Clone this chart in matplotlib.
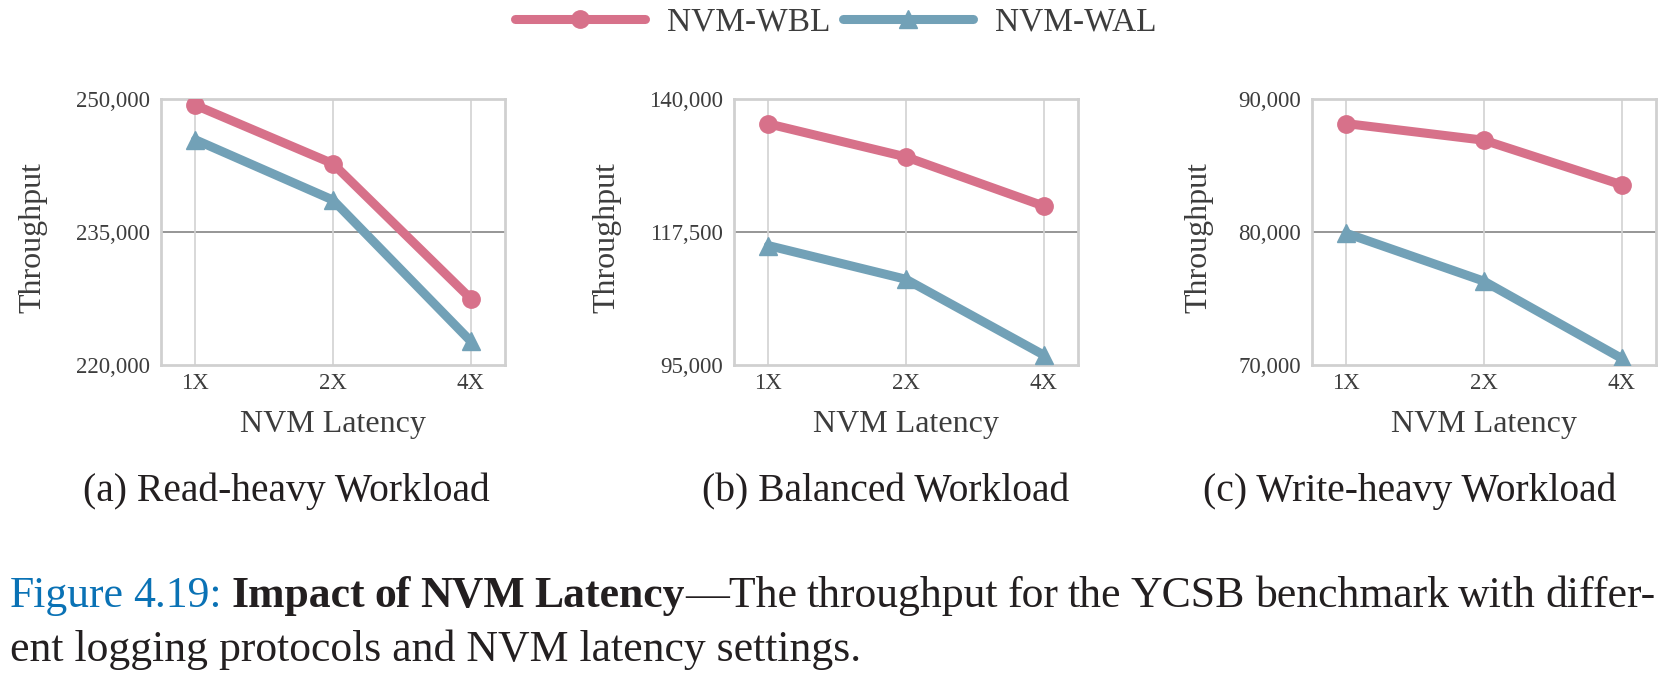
import matplotlib.pyplot as plt
from matplotlib.ticker import FuncFormatter

plt.rcParams['font.family'] = ['Liberation Serif', 'DejaVu Serif']

latency = ["1X", "2X", "4X"]

read_wbl = [249300, 242700, 227500]
read_wal = [245400, 238600, 222700]
balanced_wbl = [135800, 130200, 121900]
balanced_wal = [115200, 109500, 96700]
write_wbl = [88150, 86900, 83550]
write_wal = [79900, 76300, 70500]

y_limits = [(220000, 250000), (95000, 140000), (70000, 90000)]
subcaptions = ["(a) Read-heavy Workload", "(b) Balanced Workload", "(c) Write-heavy Workload"]
series_names = ["NVM-WBL", "NVM-WAL"]

W, H = 1668, 685
pink = "#d7718a"
blue = "#72a1b7"
ink = "#3d3d3d"
caption_ink = "#231f20"
caption_blue = "#0a72b5"

fig = plt.figure(figsize=(W / 100, H / 100), dpi=100)

panels = [(read_wbl, read_wal), (balanced_wbl, balanced_wal), (write_wbl, write_wal)]
lefts = [161, 734, 1312]
ylabel_x = [-0.33, -0.327, -0.286]
sub_x = [286, 886, 1410]

for i, (wbl, wal) in enumerate(panels):
    ax = fig.add_axes([lefts[i] / W, 1 - 365 / H, 344 / W, 266 / H])
    x = list(range(len(latency)))
    lo, hi = y_limits[i]
    mid = (lo + hi) / 2

    ax.plot(x, wal, color=blue, lw=6.5, marker='^', ms=13.5, solid_capstyle='round',
            label=series_names[1], zorder=3)
    ax.plot(x, wbl, color=pink, lw=6.5, marker='o', ms=12.5, solid_capstyle='round',
            label=series_names[0], zorder=4)

    ax.set_xlim(-0.25, 2.25)
    ax.set_ylim(lo, hi)
    ax.set_xticks(x, latency)
    ax.set_yticks([lo, mid, hi])
    ax.yaxis.set_major_formatter(FuncFormatter(lambda v, p: f"{v:,.0f}"))

    ax.grid(axis='x', color='#d2d2d2', lw=1.2, zorder=0)
    ax.axhline(mid, color='#8e8e8e', lw=1.3, zorder=1)
    for s in ax.spines.values():
        s.set_color('#d0d0d0')
        s.set_linewidth(2)

    ax.tick_params(axis='both', length=0, labelsize=16.5, colors=ink)
    ax.tick_params(axis='x', pad=6)
    ax.tick_params(axis='y', pad=8)
    ax.set_xlabel("NVM Latency", fontsize=23, color=ink, labelpad=11)
    ax.set_ylabel("Throughput", fontsize=23, color=ink)
    ax.yaxis.set_label_coords(ylabel_x[i], 0.48)

    fig.text(sub_x[i] / W, 1 - 501 / H, subcaptions[i], fontsize=28.5, color=caption_ink,
             ha='center', va='baseline')

# shared legend on top, WBL first
handles, labels = ax.get_legend_handles_labels()
fig.legend(handles[::-1], labels[::-1], loc='center', bbox_to_anchor=(0.501, 1 - 22 / H),
           ncol=2, frameon=False, fontsize=24, labelcolor=ink, handlelength=3.9,
           handletextpad=0.65, columnspacing=0.4, numpoints=1)

# caption, first line justified like the book text
renderer = fig.canvas.get_renderer()
cap_size = 31.5


def style(kind):
    if kind == 'blue':
        return dict(color=caption_blue, fontsize=cap_size)
    if kind == 'bold':
        return dict(color=caption_ink, fontsize=cap_size, fontweight='bold')
    return dict(color=caption_ink, fontsize=cap_size)


def width(s, kind):
    t = fig.text(0, 0, s, **style(kind))
    w = t.get_window_extent(renderer).width
    t.remove()
    return w


line1 = [
    [("Figure", 'blue')], [("4.19:", 'blue')],
    [("Impact", 'bold')], [("of", 'bold')], [("NVM", 'bold')],
    [("Latency", 'bold'), ("\u2014The", 'plain')],
    [("throughput", 'plain')], [("for", 'plain')], [("the", 'plain')],
    [("YCSB", 'plain')], [("benchmark", 'plain')], [("with", 'plain')],
    [("differ-", 'plain')],
]
line2 = "ent logging protocols and NVM latency settings."

word_w = [sum(width(s, k) for s, k in word) for word in line1]
gap = (1656 - 10 - sum(word_w)) / (len(line1) - 1)
xpos = 10
for word, ww in zip(line1, word_w):
    for s, k in word:
        fig.text(xpos / W, 1 - 607 / H, s, va='baseline', **style(k))
        xpos += width(s, k)
    xpos += gap

fig.text(10 / W, 1 - 661 / H, line2, va='baseline', **style('plain'))

fig.savefig("out.png", dpi=100)
